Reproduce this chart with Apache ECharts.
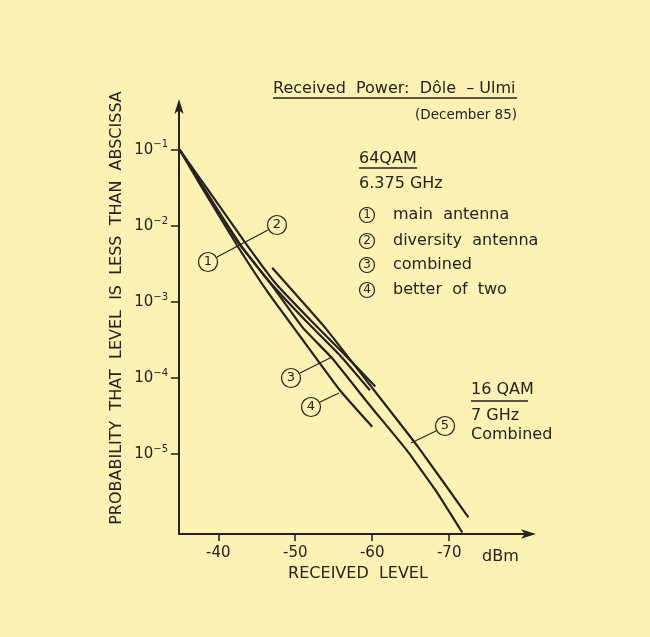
<!DOCTYPE html>
<html>
<head>
<meta charset="utf-8">
<script src="https://cdn.jsdelivr.net/npm/echarts@6/dist/echarts.min.js"></script>
<style>
html, body { margin: 0; padding: 0; background: #fbf2b4; }
#chart { width: 650px; height: 637px; }
</style>
</head>
<body>
<div id="chart"></div>
<script>
// [received level dBm, exponent of probability (10^x)]
const mainAntenna = [[-35, -1], [-38.3, -1.53], [-42.6, -2.22], [-46.8, -2.75], [-51.3, -3.24], [-55.8, -3.7], [-59.7, -4.16]]
const diversityAntenna = [[-35, -1], [-38.7, -1.53], [-43.5, -2.22], [-47.4, -2.75], [-52, -3.24], [-56.5, -3.7], [-60.4, -4.11]]
const combined = [[-35, -1], [-38.4, -1.55], [-43.1, -2.28], [-47.4, -2.84], [-51, -3.34], [-54.8, -3.74], [-59.7, -4.36], [-64.5, -4.95], [-68.2, -5.47], [-71.7, -6.03]]
const betterOfTwo = [[-35, -1], [-38.2, -1.55], [-42.6, -2.28], [-46.5, -2.88], [-50.7, -3.46], [-55.8, -4.16], [-60, -4.64]]
const qam16Combined = [[-47, -2.55], [-53.9, -3.34], [-59.7, -4.09], [-66, -4.91], [-72.5, -5.83]]

const xTicks = [-40, -50, -60, -70]
const yTicks = [-1, -2, -3, -4, -5]
const legendItems = ['main  antenna', 'diversity  antenna', 'combined', 'better  of  two']

const ink = '#26231f'
const font = 'DejaVu Sans'

const chart = echarts.init(document.getElementById('chart'))

const curve = (name, data) => ({
  name,
  type: 'line',
  data,
  showSymbol: false,
  smooth: 0.12,
  lineStyle: { color: ink, width: 2.2 },
  z: 3
})

const txt = (text, x, y, size, align) => ({
  type: 'text',
  x, y,
  style: { text, fill: ink, font: `${size}px "${font}"`, align: align || 'left', verticalAlign: 'middle' }
})
const line = (x1, y1, x2, y2, w) => ({
  type: 'line',
  shape: { x1, y1, x2, y2 },
  style: { stroke: ink, lineWidth: w || 1.2 }
})
const badge = (n, x, y, r) => ({
  type: 'group',
  children: [{
    type: 'circle',
    shape: { cx: x, cy: y, r },
    style: { fill: 'none', stroke: ink, lineWidth: 1.2 }
  }, {
    type: 'text',
    x, y,
    style: { text: String(n), fill: ink, font: `${r > 8 ? 13 : 12}px "${font}"`, align: 'center', verticalAlign: 'middle' }
  }]
})

const legendRows = [215, 241, 265, 290]

const option = {
  backgroundColor: '#fbf2b4',
  animation: false,
  textStyle: { fontFamily: font, color: ink },
  grid: { left: 179, right: 120, top: 105, bottom: 103 },
  xAxis: {
    type: 'value',
    inverse: true,
    min: -80.5,
    max: -34.9,
    axisLine: { lineStyle: { color: ink, width: 2 }, symbol: ['none', 'arrow'], symbolSize: [7, 15], symbolOffset: [0, 6] },
    axisTick: { customValues: xTicks, length: 7, lineStyle: { color: ink, width: 1.6 } },
    axisLabel: { customValues: xTicks, margin: 12, fontSize: 15, color: ink, fontFamily: font },
    splitLine: { show: false }
  },
  yAxis: {
    type: 'value',
    min: -6.05,
    max: -0.41,
    axisLine: { show: true, lineStyle: { color: ink, width: 2 }, symbol: ['none', 'arrow'], symbolSize: [7, 15], symbolOffset: [0, 6] },
    axisTick: { show: true, customValues: yTicks, length: 8, lineStyle: { color: ink, width: 1.6 } },
    axisLabel: {
      customValues: yTicks,
      margin: 11,
      formatter: v => `{b|10}{s|−${Math.abs(v)}}`,
      rich: {
        b: { fontSize: 15, lineHeight: 20, color: ink, fontFamily: font },
        s: { fontSize: 10, lineHeight: 10, verticalAlign: 'top', color: ink, fontFamily: font }
      }
    },
    splitLine: { show: false }
  },
  series: [
    curve('main antenna', mainAntenna),
    curve('diversity antenna', diversityAntenna),
    curve('combined', combined),
    curve('better of two', betterOfTwo),
    curve('16QAM combined', qam16Combined)
  ],
  graphic: [
    txt('Received  Power:  Dôle  – Ulmi', 273, 89, 16),
    line(273, 98, 517, 98, 1.5),
    txt('(December 85)', 517, 115, 13.5, 'right'),
    txt('64QAM', 359, 159, 16),
    line(359, 168, 417, 168, 1.5),
    txt('6.375 GHz', 359, 184, 16),
    ...legendItems.map((s, i) => badge(i + 1, 367, legendRows[i], 7.5)),
    ...legendItems.map((s, i) => txt(s, 393, legendRows[i], 16)),
    txt('16 QAM', 471, 390, 16),
    line(471, 401, 528, 401, 1.5),
    txt('7 GHz', 471, 416, 16),
    txt('Combined', 471, 435, 16),
    txt('dBm', 482, 557, 16),
    txt('RECEIVED  LEVEL', 358, 574, 16, 'center'),
    {
      type: 'text',
      x: 117, y: 308,
      rotation: Math.PI / 2,
      style: { text: 'PROBABILITY  THAT  LEVEL  IS  LESS  THAN  ABSCISSA', fill: ink, font: `16px "${font}"`, align: 'center', verticalAlign: 'middle' }
    },
    // curve call-outs
    badge(1, 208, 262, 9.5),
    badge(2, 277, 225, 9.5),
    line(217, 257, 268, 230),
    badge(3, 291, 378, 9.5),
    line(300, 373, 332, 357),
    badge(4, 311, 407, 9.5),
    line(320, 402, 339, 393),
    badge(5, 445, 426, 9.5),
    line(436, 431, 411, 443)
  ]
}

chart.setOption(option)
</script>
</body>
</html>
